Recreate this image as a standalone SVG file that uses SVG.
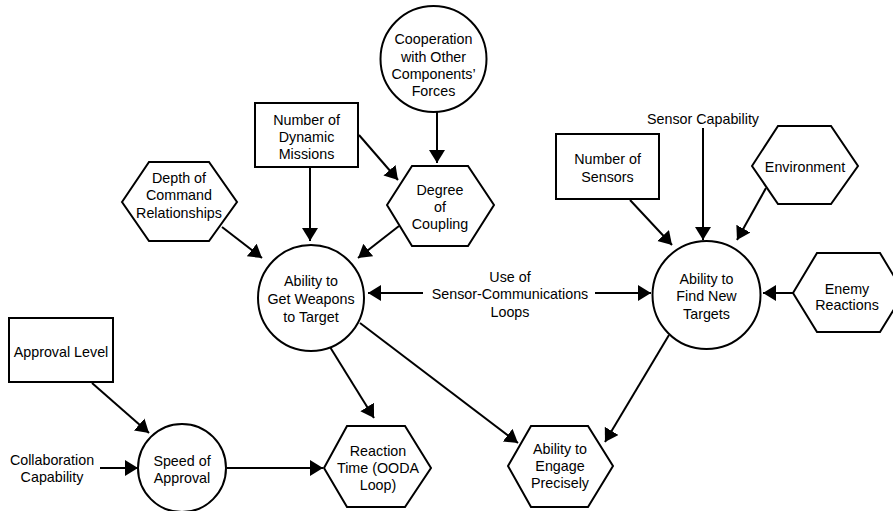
<svg xmlns="http://www.w3.org/2000/svg" width="893" height="511" viewBox="0 0 893 511">
<style>
.s{fill:#fff;stroke:#000;stroke-width:2}
.t{font-family:"Liberation Sans",Arial,sans-serif;font-size:14.3px;fill:#000;text-anchor:middle}
.c{stroke:#000;stroke-width:2;fill:none;marker-end:url(#ah)}
</style>
<defs>
<marker id="ah" markerUnits="userSpaceOnUse" markerWidth="14" markerHeight="18" refX="13" refY="8" orient="auto">
<path d="M0,0 L13,8 L0,16 z" fill="#000"/>
</marker>
</defs>
<rect width="893" height="511" fill="#fff"/>
<g id="connectors">
<line class="c" x1="437" y1="112" x2="437" y2="163"/>
<line class="c" x1="310" y1="167" x2="310" y2="241"/>
<line class="c" x1="359" y1="135" x2="398" y2="180"/>
<line class="c" x1="222" y1="227" x2="262" y2="258"/>
<line class="c" x1="399" y1="226" x2="358" y2="258"/>
<line class="c" x1="423" y1="293" x2="368" y2="293"/>
<line class="c" x1="595" y1="293" x2="651" y2="293"/>
<line class="c" x1="793" y1="293" x2="763" y2="293"/>
<line class="c" x1="703" y1="128" x2="703" y2="240"/>
<line class="c" x1="630" y1="200" x2="672" y2="245"/>
<line class="c" x1="766" y1="188" x2="737" y2="240"/>
<line class="c" x1="669" y1="335" x2="605" y2="442"/>
<line class="c" x1="360" y1="323" x2="518" y2="443"/>
<line class="c" x1="330" y1="347" x2="374" y2="418"/>
<line class="c" x1="92" y1="383" x2="149" y2="433"/>
<line class="c" x1="100" y1="468" x2="138" y2="468"/>
<line class="c" x1="227" y1="468" x2="323" y2="468"/>
</g>
<g id="cooperation">
<circle class="s" cx="433.5" cy="59" r="53"/>
<text class="t" x="433.5" y="44">Cooperation</text>
<text class="t" x="433.5" y="62">with Other</text>
<text class="t" x="433.5" y="79">Components’</text>
<text class="t" x="433.5" y="96">Forces</text>
</g>
<g id="dynamic-missions">
<rect class="s" x="255" y="103" width="103" height="64"/>
<text class="t" x="306.5" y="125">Number of</text>
<text class="t" x="306.5" y="142">Dynamic</text>
<text class="t" x="306.5" y="159">Missions</text>
</g>
<g id="depth">
<polygon class="s" points="122,202 149,162 209,162 237,202 209,241 149,241"/>
<text class="t" x="179" y="183">Depth of</text>
<text class="t" x="179" y="200">Command</text>
<text class="t" x="179" y="218">Relationships</text>
</g>
<g id="degree">
<polygon class="s" points="387,205 412,166 468,166 494,205 468,246 412,246"/>
<text class="t" x="440" y="195">Degree</text>
<text class="t" x="440" y="212">of</text>
<text class="t" x="440" y="229">Coupling</text>
</g>
<g id="weapons">
<circle class="s" cx="311" cy="298" r="53"/>
<text class="t" x="311" y="286">Ability to</text>
<text class="t" x="311" y="304">Get Weapons</text>
<text class="t" x="311" y="322">to Target</text>
</g>
<g id="sensor-comms">
<text class="t" x="510" y="282">Use of</text>
<text class="t" x="510" y="299">Sensor-Communications</text>
<text class="t" x="510" y="317">Loops</text>
</g>
<g id="sensor-capability">
<text class="t" x="703" y="124">Sensor Capability</text>
</g>
<g id="number-sensors">
<rect class="s" x="556" y="134" width="103" height="65"/>
<text class="t" x="607.5" y="164">Number of</text>
<text class="t" x="607.5" y="182">Sensors</text>
</g>
<g id="environment">
<polygon class="s" points="752,166 778,126 831,126 858,166 831,204 778,204"/>
<text class="t" x="805" y="172">Environment</text>
</g>
<g id="find-targets">
<circle class="s" cx="706.5" cy="295" r="54"/>
<text class="t" x="706.5" y="284">Ability to</text>
<text class="t" x="706.5" y="301">Find New</text>
<text class="t" x="706.5" y="319">Targets</text>
</g>
<g id="enemy">
<polygon class="s" points="793,293 817,253 880,253 904,293 880,332 817,332"/>
<text class="t" x="847" y="294">Enemy</text>
<text class="t" x="847" y="310">Reactions</text>
</g>
<g id="approval-level">
<rect class="s" x="9" y="318" width="104" height="64"/>
<text class="t" x="61" y="357">Approval Level</text>
</g>
<g id="collaboration">
<text class="t" x="52" y="465">Collaboration</text>
<text class="t" x="52" y="482">Capability</text>
</g>
<g id="speed">
<circle class="s" cx="182" cy="468" r="44"/>
<text class="t" x="182" y="466">Speed of</text>
<text class="t" x="182" y="483">Approval</text>
</g>
<g id="reaction">
<polygon class="s" points="324,468 347,426 405,426 431,468 405,507 347,507"/>
<text class="t" x="378" y="456">Reaction</text>
<text class="t" x="378" y="473">Time (OODA</text>
<text class="t" x="378" y="490">Loop)</text>
</g>
<g id="engage">
<polygon class="s" points="508,466 531,426 588,426 613,466 588,507 531,507"/>
<text class="t" x="560" y="454">Ability to</text>
<text class="t" x="560" y="471">Engage</text>
<text class="t" x="560" y="488">Precisely</text>
</g>
</svg>
